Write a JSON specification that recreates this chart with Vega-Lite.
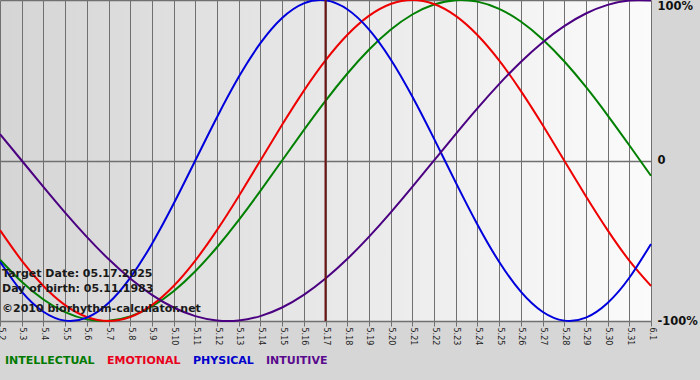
{
  "$schema": "https://vega.github.io/schema/vega-lite/v6.json",
  "width": 651,
  "height": 321,
  "autosize": {"type": "none"},
  "padding": {"left": 0, "top": 0, "right": 49, "bottom": 59},
  "background": "#d6d6d6",
  "config": {
    "view": {
      "stroke": null,
      "fill": {
        "gradient": "linear",
        "x1": 0, "y1": 0, "x2": 1, "y2": 0,
        "stops": [
          {"offset": 0, "color": "#d5d5d5"},
          {"offset": 1, "color": "#fbfbfb"}
        ]
      }
    },
    "font": "DejaVu Sans"
  },
  "datasets": {
    "bio": [
      {"date": "2025-05-02", "INTELLECTUAL": -0.6182, "EMOTIONAL": -0.4339, "PHYSICAL": -0.6311, "INTUITIVE": 0.1646},
      {"date": "2025-05-03", "INTELLECTUAL": -0.7557, "EMOTIONAL": -0.6235, "PHYSICAL": -0.8170, "INTUITIVE": 0.0},
      {"date": "2025-05-04", "INTELLECTUAL": -0.8660, "EMOTIONAL": -0.7818, "PHYSICAL": -0.9423, "INTUITIVE": -0.1646},
      {"date": "2025-05-05", "INTELLECTUAL": -0.9450, "EMOTIONAL": -0.9010, "PHYSICAL": -0.9977, "INTUITIVE": -0.3247},
      {"date": "2025-05-06", "INTELLECTUAL": -0.9898, "EMOTIONAL": -0.9749, "PHYSICAL": -0.9791, "INTUITIVE": -0.4759},
      {"date": "2025-05-07", "INTELLECTUAL": -0.9989, "EMOTIONAL": -1.0, "PHYSICAL": -0.8879, "INTUITIVE": -0.6142},
      {"date": "2025-05-08", "INTELLECTUAL": -0.9718, "EMOTIONAL": -0.9749, "PHYSICAL": -0.7308, "INTUITIVE": -0.7357},
      {"date": "2025-05-09", "INTELLECTUAL": -0.9096, "EMOTIONAL": -0.9010, "PHYSICAL": -0.5196, "INTUITIVE": -0.8372},
      {"date": "2025-05-10", "INTELLECTUAL": -0.8146, "EMOTIONAL": -0.7818, "PHYSICAL": -0.2698, "INTUITIVE": -0.9158},
      {"date": "2025-05-11", "INTELLECTUAL": -0.6901, "EMOTIONAL": -0.6235, "PHYSICAL": 0.0, "INTUITIVE": -0.9694},
      {"date": "2025-05-12", "INTELLECTUAL": -0.5406, "EMOTIONAL": -0.4339, "PHYSICAL": 0.2698, "INTUITIVE": -0.9966},
      {"date": "2025-05-13", "INTELLECTUAL": -0.3717, "EMOTIONAL": -0.2225, "PHYSICAL": 0.5196, "INTUITIVE": -0.9966},
      {"date": "2025-05-14", "INTELLECTUAL": -0.1893, "EMOTIONAL": 0.0, "PHYSICAL": 0.7308, "INTUITIVE": -0.9694},
      {"date": "2025-05-15", "INTELLECTUAL": 0.0, "EMOTIONAL": 0.2225, "PHYSICAL": 0.8879, "INTUITIVE": -0.9158},
      {"date": "2025-05-16", "INTELLECTUAL": 0.1893, "EMOTIONAL": 0.4339, "PHYSICAL": 0.9791, "INTUITIVE": -0.8372},
      {"date": "2025-05-17", "INTELLECTUAL": 0.3717, "EMOTIONAL": 0.6235, "PHYSICAL": 0.9977, "INTUITIVE": -0.7357},
      {"date": "2025-05-18", "INTELLECTUAL": 0.5406, "EMOTIONAL": 0.7818, "PHYSICAL": 0.9423, "INTUITIVE": -0.6142},
      {"date": "2025-05-19", "INTELLECTUAL": 0.6901, "EMOTIONAL": 0.9010, "PHYSICAL": 0.8170, "INTUITIVE": -0.4759},
      {"date": "2025-05-20", "INTELLECTUAL": 0.8146, "EMOTIONAL": 0.9749, "PHYSICAL": 0.6311, "INTUITIVE": -0.3247},
      {"date": "2025-05-21", "INTELLECTUAL": 0.9096, "EMOTIONAL": 1.0, "PHYSICAL": 0.3984, "INTUITIVE": -0.1646},
      {"date": "2025-05-22", "INTELLECTUAL": 0.9718, "EMOTIONAL": 0.9749, "PHYSICAL": 0.1362, "INTUITIVE": 0.0},
      {"date": "2025-05-23", "INTELLECTUAL": 0.9989, "EMOTIONAL": 0.9010, "PHYSICAL": -0.1362, "INTUITIVE": 0.1646},
      {"date": "2025-05-24", "INTELLECTUAL": 0.9898, "EMOTIONAL": 0.7818, "PHYSICAL": -0.3984, "INTUITIVE": 0.3247},
      {"date": "2025-05-25", "INTELLECTUAL": 0.9450, "EMOTIONAL": 0.6235, "PHYSICAL": -0.6311, "INTUITIVE": 0.4759},
      {"date": "2025-05-26", "INTELLECTUAL": 0.8660, "EMOTIONAL": 0.4339, "PHYSICAL": -0.8170, "INTUITIVE": 0.6142},
      {"date": "2025-05-27", "INTELLECTUAL": 0.7557, "EMOTIONAL": 0.2225, "PHYSICAL": -0.9423, "INTUITIVE": 0.7357},
      {"date": "2025-05-28", "INTELLECTUAL": 0.6182, "EMOTIONAL": 0.0, "PHYSICAL": -0.9977, "INTUITIVE": 0.8372},
      {"date": "2025-05-29", "INTELLECTUAL": 0.4582, "EMOTIONAL": -0.2225, "PHYSICAL": -0.9791, "INTUITIVE": 0.9158},
      {"date": "2025-05-30", "INTELLECTUAL": 0.2817, "EMOTIONAL": -0.4339, "PHYSICAL": -0.8879, "INTUITIVE": 0.9694},
      {"date": "2025-05-31", "INTELLECTUAL": 0.0951, "EMOTIONAL": -0.6235, "PHYSICAL": -0.7308, "INTUITIVE": 0.9966},
      {"date": "2025-06-01", "INTELLECTUAL": -0.0951, "EMOTIONAL": -0.7818, "PHYSICAL": -0.5196, "INTUITIVE": 0.9966}
    ]
  },
  "layer": [
    {
      "data": {"name": "bio"},
      "transform": [
        {"fold": ["INTELLECTUAL", "EMOTIONAL", "PHYSICAL", "INTUITIVE"], "as": ["series", "value"]}
      ],
      "mark": {"type": "line", "interpolate": "natural", "strokeWidth": 2},
      "encoding": {
        "x": {
          "field": "date",
          "type": "temporal",
          "title": null,
          "scale": {
            "type": "utc",
            "nice": false,
            "domain": [
              {"year": 2025, "month": 5, "date": 2, "utc": true},
              {"year": 2025, "month": 6, "date": 1, "utc": true}
            ]
          },
          "axis": {
            "title": null,
            "format": "%-m.%-d",
            "tickCount": {"interval": "day", "step": 1},
            "labelAngle": 90,
            "labelFontSize": 8,
            "labelColor": "#222222",
            "labelPadding": 1,
            "labelOverlap": false,
            "labelBound": false,
            "labelFlush": false,
            "grid": true,
            "gridColor": "#707070",
            "gridWidth": 1,
            "tickColor": "#707070",
            "tickSize": 5,
            "domainColor": "#707070"
          }
        },
        "y": {
          "field": "value",
          "type": "quantitative",
          "title": null,
          "scale": {"domain": [-1, 1], "nice": false},
          "axis": {
            "orient": "right",
            "title": null,
            "values": [-1, 0, 1],
            "labelExpr": "datum.value == 1 ? '100%' : datum.value == -1 ? '-100%' : '0'",
            "labelFontSize": 11.5,
            "labelFontWeight": "bold",
            "labelColor": "#111111",
            "ticks": false,
            "domain": false,
            "labelPadding": 6,
            "labelFlush": false,
            "labelBound": false,
            "labelBaseline": {"condition": {"test": "datum.value == 1", "value": "top"}, "value": "middle"},
            "grid": true,
            "gridColor": "#707070",
            "gridWidth": 1.5
          }
        },
        "color": {
          "field": "series",
          "type": "nominal",
          "scale": {
            "domain": ["INTELLECTUAL", "EMOTIONAL", "PHYSICAL", "INTUITIVE"],
            "range": ["#008000", "#ee0000", "#0000dd", "#4b0082"]
          },
          "legend": {
            "title": null,
            "orient": "none",
            "legendX": 5,
            "legendY": 355,
            "direction": "horizontal",
            "padding": 0,
            "symbolType": "circle",
            "symbolSize": 0,
            "symbolStrokeWidth": 0,
            "symbolOpacity": 0,
            "labelOffset": -11,
            "columnPadding": 12,
            "labelFontSize": 11,
            "labelFontWeight": "bold",
            "labelFont": "DejaVu Sans",
            "labelColor": {"expr": "datum.value == 'INTELLECTUAL' ? '#007a00' : datum.value == 'EMOTIONAL' ? '#e8001c' : datum.value == 'PHYSICAL' ? '#0000cc' : '#5a0a8c'"}
          }
        }
      }
    },
    {
      "data": {"values": [{"target": "2025-05-17"}]},
      "mark": {"type": "rule", "color": "#6e1414", "strokeWidth": 2},
      "encoding": {
        "x": {"field": "target", "type": "temporal", "title": null}
      }
    },
    {
      "data": {"values": [{"note": "Target Date: 05.17.2025\nDay of birth: 05.11.1983"}]},
      "mark": {
        "type": "text", "align": "left", "baseline": "alphabetic", "dx": 2,
        "fontSize": 11, "fontWeight": "bold", "font": "DejaVu Sans",
        "color": "#1a1a1a", "lineBreak": "\n", "lineHeight": 14.5
      },
      "encoding": {
        "x": {"datum": {"year": 2025, "month": 5, "date": 2, "utc": true}, "type": "temporal", "title": null},
        "y": {"datum": -0.726, "type": "quantitative", "title": null},
        "text": {"field": "note"}
      }
    },
    {
      "data": {"values": [{"note": "©2010 biorhythm-calculator.net"}]},
      "mark": {
        "type": "text", "align": "left", "baseline": "alphabetic", "dx": 2,
        "fontSize": 11, "fontWeight": "bold", "font": "DejaVu Sans",
        "color": "#1a1a1a"
      },
      "encoding": {
        "x": {"datum": {"year": 2025, "month": 5, "date": 2, "utc": true}, "type": "temporal", "title": null},
        "y": {"datum": -0.942, "type": "quantitative", "title": null},
        "text": {"field": "note"}
      }
    }
  ]
}
